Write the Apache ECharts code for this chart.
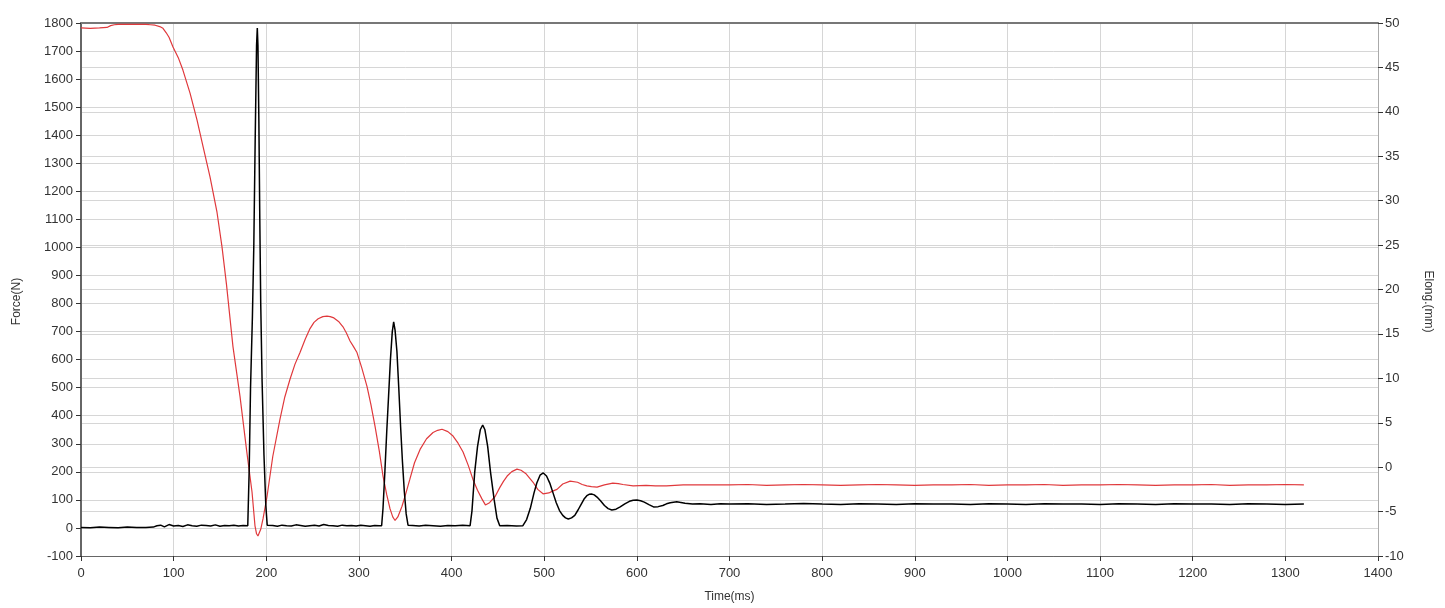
<!DOCTYPE html>
<html>
<head>
<meta charset="utf-8">
<script src="https://cdn.jsdelivr.net/npm/echarts@6/dist/echarts.min.js"></script>
<style>
html,body{margin:0;padding:0;background:#fff;}
#chart{width:1445px;height:608px;}
</style>
</head>
<body>
<div id="chart"></div>
<script>
// Force (N), black, left axis
const forceTime = [0,10,20,30,40,50,60,70,78,82,86,90,95,100,105,110,115,120,125,130,135,140,145,150,155,160,165,170,175,180,
  181.5,183,185,186.5,188,189.5,190.3,191,192,193,194,195.5,197.5,199.5,201,202,
  207,212,217,222,227,232,237,242,247,252,257,262,267,272,277,282,287,292,297,302,307,312,317,322,324.5,
  326,328,330,332,334,336,337.5,339,341,343,345,347,349,351,353,
  358,365,372,380,388,396,404,412,420,
  422,425,428,431,433.6,436,439,442,446,449,452,
  460,470,477,481,485,489,492,495.5,499,502.5,506,509.5,513,516.5,520,523,526,529.5,533,536.5,540,543,546,548.5,551,554,557,561,565,569,573,577.5,582,587,592,596,600,604,608,613,618,623,628,632,636,639.5,643,647.5,652,660,668,680,690,
  700,720,740,760,780,800,820,840,860,880,900,920,940,960,980,1000,1020,1040,1060,1080,1100,1120,1140,1160,1180,1200,1220,1240,1260,1280,1300,1320];
const forceValues = [2,1,3,2,1,3,2,2,3,8,10,4,12,7,9,5,11,8,6,10,9,7,11,6,9,8,10,7,9,8,
  200,500,750,1000,1380,1720,1782,1720,1450,1100,800,520,260,80,10,8,
  9,6,10,8,7,11,9,6,8,10,7,12,9,8,6,10,8,9,7,10,8,6,9,8,8,
  70,200,342,470,600,700,735,705,630,500,360,235,130,50,10,
  9,7,10,8,6,9,8,10,8,
  60,200,290,350,367,350,290,200,100,35,8,
  9,7,8,30,70,125,160,188,196,185,160,125,90,62,45,36,32,36,45,64,85,103,115,120,121,118,110,96,80,69,64,67,75,86,95,99,100,97,92,83,75,76,80,86,90,92,93,91,88,85,86,84,86,
  85,86,84,85,87,85,84,86,85,84,86,85,85,84,86,85,84,86,85,85,84,86,85,84,86,85,85,84,86,85,84,85];

// Elongation (mm), red, right axis
const elongTime = [0,10,20,28,32,36,40,50,60,70,75,80,85,88.5,92,95,99.3,105,110,117.7,125.2,131.7,139.2,146.8,152.2,157,
  164,171.6,179,184.6,187.8,189.5,191,192.5,194,196.5,200.8,207,214.8,220,225.6,231,236.4,242,247.2,251.5,256,261,265.5,269,273,278,282.8,286.5,290.4,294,297.9,303,308.7,313,317.4,322,326,330,333.6,336.5,339,342,346.5,
  350.5,355,360,366,373,380,385,389.7,396,401.6,407,412.4,418,423,428,432.9,436.5,441,447,452,456,460,465,470.6,475,480,484,488,493,498.7,505,509,513.8,520,528,536,541,546,551,557,565,574,580,585,596,610,620,632,650,668,
  700,720,740,760,780,800,820,840,860,880,900,920,940,960,980,1000,1020,1040,1060,1080,1100,1120,1140,1160,1180,1200,1220,1240,1260,1280,1300,1320];
const elongValues = [49.45,49.4,49.45,49.5,49.7,49.8,49.85,49.85,49.85,49.85,49.8,49.75,49.6,49.4,48.9,48.4,47.3,46.1,44.7,42.1,39.1,36.1,32.7,28.7,24.8,20.6,
  13.6,8.0,1.7,-2.8,-6.6,-7.5,-7.75,-7.6,-7.0,-5.8,-3.3,1.2,5.4,7.9,9.9,11.6,12.9,14.4,15.6,16.3,16.7,16.95,17.0,16.95,16.8,16.4,15.8,15.1,14.2,13.6,12.9,11.2,9.1,7.0,4.6,1.8,-1.0,-3.1,-4.7,-5.6,-6.0,-5.6,-4.4,
  -3.0,-1.35,0.5,2.0,3.2,3.9,4.15,4.27,4.0,3.5,2.7,1.7,0.2,-1.35,-2.6,-3.6,-4.25,-4.0,-3.3,-2.3,-1.6,-1.0,-0.5,-0.22,-0.35,-0.7,-1.2,-1.7,-2.5,-3.0,-2.9,-2.7,-2.5,-1.9,-1.57,-1.7,-1.95,-2.1,-2.2,-2.25,-2.0,-1.8,-1.85,-1.95,-2.1,-2.05,-2.1,-2.1,-2.0,-2.0,
  -2.0,-1.95,-2.05,-2.0,-1.95,-2.0,-2.05,-2.0,-1.95,-2.0,-2.05,-2.0,-2.0,-1.95,-2.05,-2.0,-2.0,-1.95,-2.05,-2.0,-2.0,-1.95,-2.0,-2.05,-2.0,-2.0,-1.95,-2.05,-2.0,-2.0,-1.95,-2.0];

const xTicks = {min:0, max:1400, interval:100};
const forceAxis = {min:-100, max:1800, interval:100};
const elongAxis = {min:-10, max:50, interval:5};

const forceData = forceTime.map((t,i)=>[t, forceValues[i]]);
const elongData = elongTime.map((t,i)=>[t, elongValues[i]]);

const font = 'Liberation Sans, Arial, sans-serif';
const gridLine = {show:true, lineStyle:{color:'#d6d6d6', width:1}};
const plain = v => String(v);

const chart = echarts.init(document.getElementById('chart'), null, {renderer:'canvas'});
chart.setOption({
  animation:false,
  backgroundColor:'#ffffff',
  grid:{left:81, right:67, top:23, bottom:51},
  xAxis:[{
    type:'value', min:xTicks.min, max:xTicks.max, interval:xTicks.interval,
    name:'Time(ms)', nameLocation:'middle', nameGap:35,
    nameTextStyle:{fontFamily:font, fontSize:12, color:'#333'},
    axisLine:{show:true, onZero:false, lineStyle:{color:'#666', width:1}},
    axisTick:{show:true, length:5, lineStyle:{color:'#333'}},
    axisLabel:{fontFamily:font, fontSize:13, color:'#333', margin:11, formatter:plain},
    splitLine:gridLine
  },{
    type:'value', position:'top', min:xTicks.min, max:xTicks.max,
    axisLine:{show:true, onZero:false, lineStyle:{color:'#777', width:2}},
    axisTick:{show:false}, axisLabel:{show:false}, splitLine:{show:false}
  }],
  yAxis:[{
    type:'value', position:'left', min:forceAxis.min, max:forceAxis.max, interval:forceAxis.interval,
    name:'Force(N)', nameLocation:'middle', nameGap:58, nameRotate:90,
    nameTextStyle:{fontFamily:font, fontSize:12, color:'#333', padding:[0,24,0,0]},
    axisLine:{show:true, onZero:false, lineStyle:{color:'#666', width:2}},
    axisTick:{show:true, length:5, lineStyle:{color:'#333'}},
    axisLabel:{fontFamily:font, fontSize:13, color:'#333', margin:8, formatter:plain},
    splitLine:gridLine
  },{
    type:'value', position:'right', min:elongAxis.min, max:elongAxis.max, interval:elongAxis.interval,
    name:'Elong.(mm)', nameLocation:'middle', nameGap:44, nameRotate:-90,
    nameTextStyle:{fontFamily:font, fontSize:12, color:'#333', padding:[0,0,0,24]},
    axisLine:{show:true, onZero:false, lineStyle:{color:'#aaa', width:1}},
    axisTick:{show:true, length:5, lineStyle:{color:'#333'}},
    axisLabel:{fontFamily:font, fontSize:13, color:'#333', margin:7, formatter:plain},
    splitLine:gridLine
  }],
  series:[{
    name:'Elong', type:'line', xAxisIndex:0, yAxisIndex:1, data:elongData,
    showSymbol:false, smooth:false,
    lineStyle:{color:'#e0393c', width:1.2}, z:3
  },{
    name:'Force', type:'line', xAxisIndex:0, yAxisIndex:0, data:forceData,
    showSymbol:false, smooth:false,
    lineStyle:{color:'#000000', width:1.5}, z:4
  }]
});
</script>
</body>
</html>
